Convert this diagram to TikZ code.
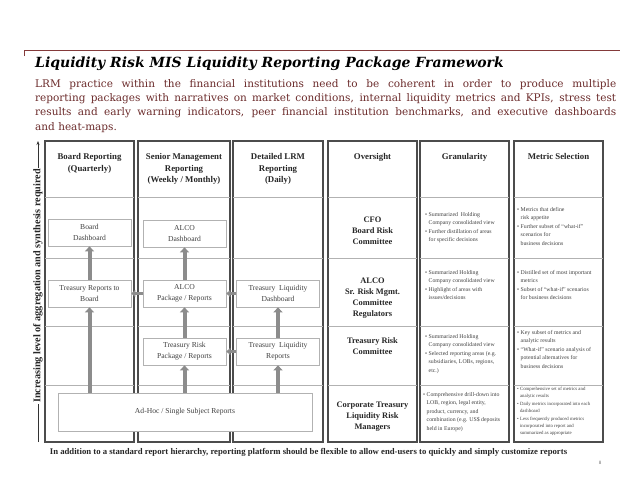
\documentclass[tikz,border=0pt]{standalone}
\usepackage{fontspec}
\setmainfont{Liberation Serif}
\newfontfamily\leadfont{DejaVu Serif}
\usepackage{tikz}
\usetikzlibrary{arrows.meta}

\definecolor{lrmred}{HTML}{843A3A}
\definecolor{leadtext}{HTML}{6B2B2B}
\newcommand{\bitem}{\textbullet\ }
\newcommand{\bcont}{\hphantom{\textbullet\ }}

\begin{document}
\begin{tikzpicture}[x=1pt, y=-1pt, line width=0.4pt,
  colbox/.style={draw=black!70, line width=1.2pt},
  rowline/.style={black!30, line width=0.6pt},
  colhead/.style={anchor=north, align=center, font=\fontsize{8.8}{11.5}\selectfont\bfseries, text=black!85},
  repbox/.style={draw=black!30, line width=0.7pt, fill=white, minimum width=83pt, minimum height=27pt,
    inner sep=1pt, align=center, font=\fontsize{7.6}{11}\selectfont, text=black!75},
  owner/.style={align=center, font=\fontsize{8.4}{11}\selectfont\bfseries, text=black!85},
  notes/.style={anchor=north west, inner sep=0pt, align=left, font=\fontsize{5.8}{8.5}\selectfont, text=black!75},
  uparrow/.style={black!45, line width=4pt, -{Triangle[width=9pt, length=5pt]}},
  sidearrow/.style={black!45, line width=3.5pt, -{Triangle[width=7pt, length=4pt]}}
]
  \useasboundingbox (0,0) rectangle (638,479);
  % header rule and title
  \draw[lrmred, line width=1pt] (24,56) -- (24,50) -- (620,50);
  \node[anchor=base west, inner sep=0pt, font=\leadfont\fontsize{14}{16}\selectfont\bfseries\itshape] (title) at (35,67)
    {Liquidity Risk MIS Liquidity Reporting Package Framework};
  \node[anchor=north west, inner sep=0pt, text width=581pt, align=justify, text=leadtext,
    font=\leadfont\fontsize{10.5}{14.3}\selectfont] (lead) at (35,79)
    {LRM practice within the financial institutions need to be coherent in order to produce multiple\linebreak
     reporting packages with narratives on market conditions, internal liquidity metrics and KPIs, stress test\linebreak
     results and early warning indicators, peer financial institution benchmarks, and executive dashboards\linebreak
     and heat-maps.};
  % columns with row lines
  \foreach \l/\r in {45/134, 138/230, 233/323, 328/417, 420/509, 514/603} {
    \draw[colbox] (\l,141) rectangle (\r,442);
    \foreach \y in {197,258,326,385} \draw[rowline] (\l,\y) -- (\r,\y);
  }
  % axis
  \coordinate (axbot) at (38,442);
  \coordinate (axtop) at (38,141);
  \draw[black!80, line width=0.7pt, -{Stealth[length=4pt, width=3pt]}] (axbot) -- (axtop);
  \node[rotate=90, fill=white, inner sep=1pt, font=\fontsize{10.2}{11}\selectfont\bfseries, text=black!85] (axlabel) at (38,286)
    {Increasing level of aggregation and synthesis required};
  % column heads
  \node[colhead] (h1) at (89.5,150) {Board Reporting\\(Quarterly)};
  \node[colhead] (h2) at (184,150) {Senior Management\\Reporting\\(Weekly / Monthly)};
  \node[colhead] (h3) at (278,150) {Detailed LRM\\Reporting\\(Daily)};
  \node[colhead] (h4) at (372.5,150) {Oversight};
  \node[colhead] (h5) at (464.5,150) {Granularity};
  \node[colhead] (h6) at (558.5,150) {Metric Selection};
  % report boxes
  \node[repbox] (bdash) at (89.5,232.5) {Board\\Dashboard};
  \node[repbox] (alcodash) at (184.5,233.5) {ALCO\\Dashboard};
  \node[repbox] (tqb) at (89.5,293.5) {Treasury Reports to\\Board};
  \node[repbox] (alcopkg) at (184.5,293.5) {ALCO\\Package / Reports};
  \node[repbox] (tldash) at (278,293.5) {Treasury\ \ Liquidity\\Dashboard};
  \node[repbox] (trpkg) at (184.5,351.5) {Treasury Risk\\Package / Reports};
  \node[repbox] (tlrep) at (278,351.5) {Treasury\ \ Liquidity\\Reports};
  \node[repbox, minimum width=254pt, minimum height=38pt] (adhoc) at (185,412) {Ad-Hoc / Single Subject Reports};
  % roll-up arrows
  \draw[uparrow] (tqb.north) -- (bdash.south);
  \draw[uparrow] (adhoc.north -| tqb.south) -- (tqb.south);
  \draw[uparrow] (alcopkg.north) -- (alcodash.south);
  \draw[uparrow] (trpkg.north) -- (alcopkg.south);
  \draw[uparrow] (adhoc.north -| trpkg.south) -- (trpkg.south);
  \draw[uparrow] (tlrep.north) -- (tldash.south);
  \draw[uparrow] (adhoc.north -| tlrep.south) -- (tlrep.south);
  \draw[sidearrow] (alcopkg.west) -- (tqb.east);
  \draw[sidearrow] (tldash.west) -- (alcopkg.east);
  \draw[sidearrow] (tlrep.west) -- (trpkg.east);
  % oversight
  \node[owner] (o1) at (372.5,231) {CFO\\Board Risk\\Committee};
  \node[owner] (o2) at (372.5,298) {ALCO\\Sr. Risk Mgmt.\\Committee\\Regulators};
  \node[owner] (o3) at (372.5,346.5) {Treasury Risk\\Committee};
  \node[owner] (o4) at (372.5,417) {Corporate Treasury\\Liquidity Risk\\Managers};
  % granularity
  \node[notes] (g1) at (425,212) {\bitem Summarized\ \ Holding\\\bcont Company consolidated view\\\bitem Further distillation of areas\\\bcont for specific decisions};
  \node[notes] (g2) at (425,270) {\bitem Summarized Holding\\\bcont Company consolidated view\\\bitem Highlight of areas with\\\bcont issues/decisions};
  \node[notes] (g3) at (425,334) {\bitem Summarized Holding\\\bcont Company consolidated view\\\bitem Selected reporting areas (e.g.\\\bcont subsidiaries, LOBs, regions,\\\bcont etc.)};
  \node[notes] (g4) at (423,392) {\bitem Comprehensive drill-down into\\\bcont LOB, region, legal entity,\\\bcont product, currency, and\\\bcont combination (e.g. US\$ deposits\\\bcont held in Europe)};
  % metric selection
  \node[notes] (m1) at (517,207) {\bitem Metrics that define\\\bcont risk appetite\\\bitem Further subset of ``what-if''\\\bcont scenarios for\\\bcont business decisions};
  \node[notes] (m2) at (517,270) {\bitem Distilled set of most important\\\bcont metrics\\\bitem Subset of ``what-if'' scenarios\\\bcont for business decisions};
  \node[notes] (m3) at (517,330) {\bitem Key subset of metrics and\\\bcont analytic results\\\bitem ``What-if'' scenario analysis of\\\bcont potential alternatives for\\\bcont business decisions};
  \node[notes, font=\fontsize{4.8}{7.4}\selectfont] (m4) at (517,387) {\bitem Comprehensive set of metrics and\\\bcont analytic results\\\bitem Daily metrics incorporated into each\\\bcont dashboard\\\bitem Less frequently produced metrics\\\bcont incorporated into report and\\\bcont summarized as appropriate};
  % footer
  \node[font=\fontsize{8.7}{10}\selectfont\bfseries, text=black!85] (foot) at (308.5,452)
    {In addition to a standard report hierarchy, reporting platform should be flexible to allow end-users to quickly and simply customize reports};
  \node[font=\fontsize{5}{6}\selectfont, text=black!60] (pageno) at (600,463) {8};
\end{tikzpicture}
\end{document}
